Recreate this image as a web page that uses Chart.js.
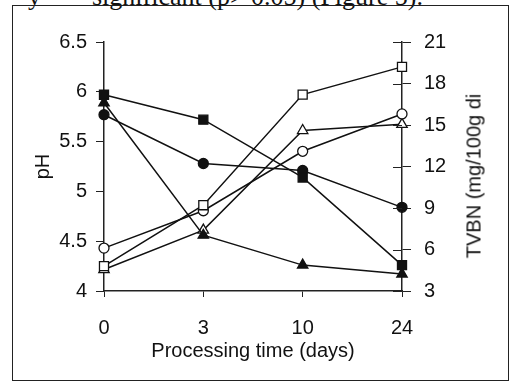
<!DOCTYPE html>
<html lang="en">
<head>
  <meta charset="UTF-8" />
  <title>pH and TVBN vs processing time</title>
  <script src="https://cdn.jsdelivr.net/npm/chart.js"></script>
  <style>
    * { margin: 0; padding: 0; box-sizing: border-box; }

    body {
      width: 511px;
      height: 385px;
      background: #fff;
      overflow: hidden;
      position: relative;
      font-family: 'Liberation Sans', Arial, sans-serif;
      color: #111;
    }

    .caption {
      position: absolute;
      top: -16px;
      font-family: 'Liberation Serif', 'Times New Roman', serif;
      font-size: 26px;
      line-height: 26px;
      white-space: pre;
      color: #111;
    }

    .frame {
      position: absolute;
      left: 12px;
      top: 5px;
      width: 497px;
      height: 376px;
      border: 1.5px solid #222;
    }

    .chart-box {
      position: absolute;
      left: 0;
      top: 0;
      width: 511px;
      height: 385px;
    }

    .y2-title {
      position: absolute;
      left: 474px;
      top: 176px;
      transform: translate(-50%, -50%) rotate(-90deg);
      font-size: 20px;
      white-space: nowrap;
      color: #111;
    }
  </style>
</head>
<body>
  <div class="caption" style="left: 28px;">y</div>
  <div class="caption" style="left: 92px;">significant (p&gt; 0.05) (Figure 5).</div>
  <div class="frame"></div>

  <div class="chart-box">
    <canvas id="chart"></canvas>
  </div>
  <div class="y2-title">TVBN (mg/100g di</div>

  <script>
    // processing time (days)
    const days = ['0', '3', '10', '24'];

    // pH (left axis) - filled markers
    const phSquare   = [5.97, 5.72, 5.14, 4.26];
    const phCircle   = [5.77, 5.28, 5.21, 4.84];
    const phTriangle = [5.89, 4.56, 4.26, 4.17];

    // TVBN (right axis) - open markers
    const tvbnSquare   = [4.8, 9.2, 17.2, 19.2];
    const tvbnCircle   = [6.1, 8.8, 13.1, 15.8];
    const tvbnTriangle = [4.55, 7.4, 14.6, 15.05];

    const ink = '#111';
    const axisInk = '#222';
    const font = { family: "'Liberation Sans', Arial, sans-serif", size: 20 };

    const series = (data, axis, style, radius, filled) => ({
      data,
      yAxisID: axis,
      borderColor: ink,
      borderWidth: 1.5,
      pointStyle: style,
      pointRadius: radius,
      pointHoverRadius: radius,
      pointBorderWidth: 1.3,
      pointBorderColor: ink,
      pointBackgroundColor: filled ? ink : '#fff',
      tension: 0,
      fill: false
    });

    // right axis ticks cross the axis line, so draw the inner half too
    const innerTicks = {
      id: 'innerTicks',
      afterDraw(chart) {
        const s = chart.scales.y2;
        const ctx = chart.ctx;
        ctx.save();
        ctx.strokeStyle = axisInk;
        ctx.lineWidth = 1;
        s.ticks.forEach((t, i) => {
          const y = Math.round(s.getPixelForTick(i)) + 0.5;
          ctx.beginPath();
          ctx.moveTo(s.left - 9, y);
          ctx.lineTo(s.left, y);
          ctx.stroke();
        });
        ctx.restore();
      }
    };

    new Chart(document.getElementById('chart'), {
      type: 'line',
      data: {
        labels: days,
        datasets: [
          series(phSquare, 'y', 'rect', 6.4, true),
          series(phCircle, 'y', 'circle', 5, true),
          series(phTriangle, 'y', 'triangle', 6, true),
          series(tvbnSquare, 'y2', 'rect', 6.4, false),
          series(tvbnCircle, 'y2', 'circle', 5, false),
          series(tvbnTriangle, 'y2', 'triangle', 6, false)
        ]
      },
      options: {
        responsive: true,
        maintainAspectRatio: false,
        animation: false,
        layout: { padding: { top: 42, left: 0, right: 0, bottom: 0 } },
        plugins: {
          legend: { display: false },
          tooltip: { enabled: false }
        },
        scales: {
          x: {
            type: 'category',
            offset: false,
            border: { color: axisInk, width: 1.5 },
            grid: { offset: false, drawOnChartArea: false, drawTicks: true, tickLength: 6, color: axisInk },
            ticks: { color: ink, font, padding: 19, maxRotation: 0 },
            title: { display: true, text: 'Processing time (days)', color: ink, font, padding: { top: 0, bottom: 22 } },
            afterFit(scale) { scale.height = 94; }
          },
          y: {
            position: 'left',
            min: 4,
            max: 6.5,
            border: { color: axisInk, width: 1.5 },
            grid: { drawOnChartArea: false, drawTicks: true, tickLength: 8, color: axisInk },
            ticks: { stepSize: 0.5, color: ink, font, padding: 9, callback: v => String(v) },
            title: { display: true, text: 'pH', color: ink, font, padding: { top: 31, bottom: 0 } },
            afterFit(scale) { scale.width = 104; }
          },
          y2: {
            position: 'right',
            min: 3,
            max: 21,
            border: { color: axisInk, width: 1.5 },
            grid: { drawOnChartArea: false, drawTicks: true, tickLength: 9, color: axisInk },
            ticks: { stepSize: 3, color: ink, font, padding: 13 },
            afterFit(scale) { scale.width = 109; }
          }
        }
      },
      plugins: [innerTicks]
    });
  </script>
</body>
</html>
